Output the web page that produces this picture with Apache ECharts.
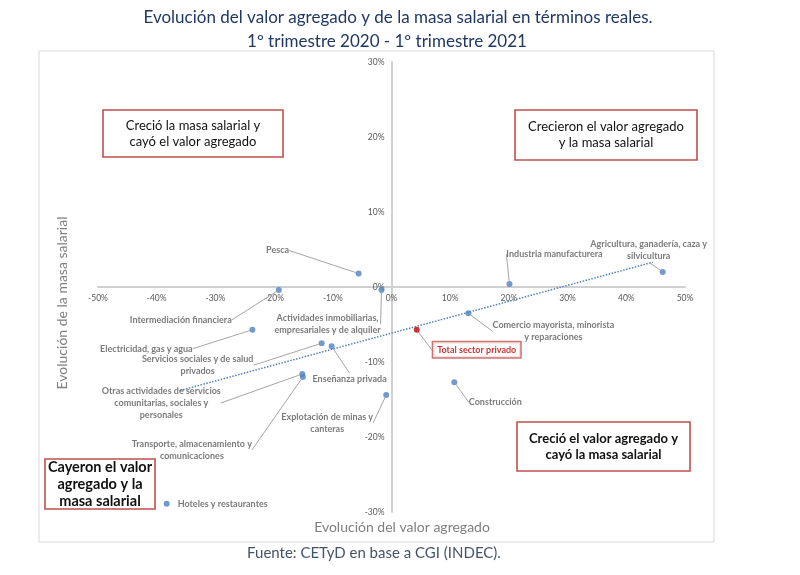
<!DOCTYPE html>
<html>
<head>
<meta charset="utf-8">
<script src="https://cdn.jsdelivr.net/npm/echarts@6/dist/echarts.min.js"></script>
<style>html,body{margin:0;padding:0;background:#fff;}#c{width:800px;height:575px;}</style>
</head>
<body>
<div id="c"></div>
<script>
// ---- Data ----
const sectors = [
  'Agricultura, ganadería, caza y\nsilvicultura',
  'Industria manufacturera',
  'Pesca',
  'Intermediación financiera',
  'Actividades inmobiliarias,\nempresariales y de alquiler',
  'Electricidad, gas y agua',
  'Servicios sociales y de salud\nprivados',
  'Enseñanza privada',
  'Otras actividades de servicios\ncomunitarias, sociales y\npersonales',
  'Transporte, almacenamiento y\ncomunicaciones',
  'Explotación de minas y\ncanteras',
  'Hoteles y restaurantes',
  'Construcción',
  'Comercio mayorista, minorista\ny reparaciones'
];
const valorAgregado = [46.2, 20.1, -5.6, -19.2, -1.7, -23.7, -11.9, -10.2, -15.2, -15.1, -0.9, -38.3, 10.7, 13.1];
const masaSalarial  = [2.0, 0.4, 1.8, -0.4, -0.4, -5.7, -7.5, -7.9, -11.6, -12.0, -14.4, -28.9, -12.7, -3.5];
const totalName = 'Total sector privado';
const totalValor = [4.3];
const totalMasa = [-5.7];
const trendX = [-36.0, 44.5];
const trendY = [-13.8, 3.3];
const xTicks = { min: -50, max: 50, step: 10 };
const yTicks = { min: -30, max: 30, step: 10 };

// ---- Label placement (pixel offsets from point to label centre) ----
const labelOffsets = [
  [-14, -22], [45, -30], [-81, -23], [-98, 30], [-54, 34], [-106, 19],
  [-124, 22], [18, 33], [-141, 29], [-111, 73], [-59, 28], [56, 0], [41, 20], [85, 18]
];
const noLeader = [11];
const totalOffset = [60, 20];

const labelFont = 'Lato, "Open Sans", sans-serif';
const chart = echarts.init(document.getElementById('c'), null, { renderer: 'canvas' });

const sectorData = sectors.map((n, i) => {
  const item = { name: n, value: [valorAgregado[i], masaSalarial[i]] };
  if (noLeader.indexOf(i) >= 0) item.labelLine = { show: false };
  return item;
});

const trendData = trendX.map((x, i) => [x, trendY[i]]);

function box(x, y, w, h, lines, fontSize, bold, lh) {
  return [
    { type: 'rect', shape: { x: x, y: y, width: w, height: h }, style: { fill: '#fff', stroke: '#c0504d', lineWidth: 1.6 }, z: 10 },
    { type: 'text', x: x + w / 2, y: y + h / 2, style: { text: lines, fontSize: fontSize, fontWeight: bold ? 'bold' : 'normal', fontFamily: labelFont, fill: '#111', align: 'center', verticalAlign: 'middle', lineHeight: lh }, z: 11 }
  ];
}

const grid = { left: 98, right: 115, top: 62, bottom: 63 };
const gridW = 800 - grid.left - grid.right;
const gridH = 575 - grid.top - grid.bottom;
// place the axes (with their labels) through zero
const xAxisOffset = -gridH * (0 - yTicks.min) / (yTicks.max - yTicks.min);
const yAxisOffset = -gridW * (0 - xTicks.min) / (xTicks.max - xTicks.min);

const option = {
  backgroundColor: '#fff',
  animation: false,
  grid: grid,
  xAxis: {
    type: 'value', min: xTicks.min, max: xTicks.max, interval: xTicks.step,
    position: 'bottom', offset: xAxisOffset,
    axisLine: { onZero: false, lineStyle: { color: '#d0d0d0', width: 2 } },
    axisTick: { show: false },
    splitLine: { show: false },
    axisLabel: { formatter: '{value}%', fontSize: 8.5, color: '#595959', margin: 7, fontFamily: labelFont }
  },
  yAxis: {
    type: 'value', min: yTicks.min, max: yTicks.max, interval: yTicks.step,
    position: 'left', offset: yAxisOffset,
    axisLine: { onZero: false, lineStyle: { color: '#d0d0d0', width: 2 } },
    axisTick: { show: false },
    splitLine: { show: false },
    axisLabel: { formatter: '{value}%', fontSize: 8.5, color: '#595959', margin: 7, fontFamily: labelFont }
  },
  series: [
    {
      type: 'line', data: trendData, symbol: 'none', silent: true, z: 1,
      lineStyle: { type: 'dotted', color: '#4f81bd', width: 1.5 }
    },
    {
      type: 'scatter', data: sectorData, symbolSize: 6, z: 3,
      itemStyle: { color: '#4f81bd' },
      label: {
        show: true, position: 'inside', formatter: '{b}', fontSize: 9, fontWeight: 'bold',
        color: '#595959', fontFamily: labelFont, align: 'center', lineHeight: 12
      },
      labelLine: { show: true, lineStyle: { color: '#a6a6a6', width: 1 } },
      labelLayout: function (p) {
        const o = labelOffsets[p.dataIndex];
        return { dx: o[0], dy: o[1] };
      }
    },
    {
      type: 'scatter', data: [{ name: totalName, value: [totalValor[0], totalMasa[0]] }], symbolSize: 6, z: 4,
      itemStyle: { color: '#c00000' },
      label: {
        show: true, position: 'inside', formatter: '{b}', fontSize: 9, fontWeight: 'bold',
        color: '#c00000', fontFamily: labelFont, backgroundColor: '#fff',
        borderColor: '#c0504d', borderWidth: 1.5, padding: [3, 4]
      },
      labelLine: { show: true, lineStyle: { color: '#a6a6a6', width: 1 } },
      labelLayout: function () { return { dx: totalOffset[0], dy: totalOffset[1] }; }
    }
  ],
  graphic: [
    { type: 'rect', shape: { x: 39, y: 51, width: 675, height: 491 }, style: { fill: 'none', stroke: '#d9d9d9', lineWidth: 1 }, z: -1, silent: true },
    { type: 'text', x: 398, y: 18, style: { text: 'Evolución del valor agregado y de la masa salarial en términos reales.', fontSize: 17, fontFamily: labelFont, fill: '#1f3864', align: 'center', verticalAlign: 'middle' } },
    { type: 'text', x: 387, y: 42, style: { text: '1º trimestre 2020 - 1º trimestre 2021', fontSize: 17, fontFamily: labelFont, fill: '#1f3864', align: 'center', verticalAlign: 'middle' } },
    { type: 'text', x: 402, y: 527, style: { text: 'Evolución del valor agregado', fontSize: 14, fontFamily: labelFont, fill: '#7f7f7f', align: 'center', verticalAlign: 'middle' } },
    { type: 'text', x: 62, y: 303, rotation: Math.PI / 2, style: { text: 'Evolución de la masa salarial', fontSize: 14, fontFamily: labelFont, fill: '#7f7f7f', align: 'center', verticalAlign: 'middle' } },
    { type: 'text', x: 374, y: 553, style: { text: 'Fuente: CETyD en base a CGI (INDEC).', fontSize: 15, fontFamily: labelFont, fill: '#44546a', align: 'center', verticalAlign: 'middle' } }
  ]
    .concat(box(103, 110, 180, 47, 'Creció la masa salarial y\ncayó el valor agregado', 13, false, 16))
    .concat(box(515, 110, 182, 50, 'Crecieron el valor agregado\ny la masa salarial', 13, false, 16))
    .concat(box(517, 422, 173, 49, 'Creció el valor agregado y\ncayó la masa salarial', 13, true, 16))
    .concat(box(45, 459, 110, 50, 'Cayeron el valor\nagregado y la\nmasa salarial', 14.5, true, 17))
};
chart.setOption(option);
</script>
</body>
</html>
